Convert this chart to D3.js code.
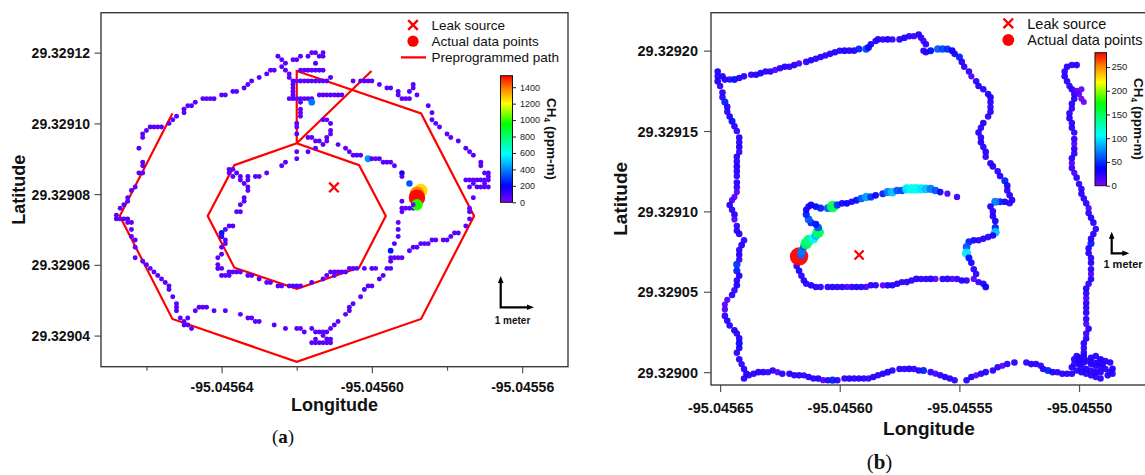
<!DOCTYPE html>
<html><head><meta charset="utf-8">
<script src="https://cdn.jsdelivr.net/npm/d3@7"></script>
<style>
body{margin:0;background:#fff;}
svg{display:block;font-family:"Liberation Sans",Arial,sans-serif;}
</style></head><body>
<svg id="chart" width="1145" height="475"></svg>
<script>
// ---------- panel (a): octagon survey ----------
const pathLonA = [-95.0456531,-95.0456671,-95.0456531,-95.0456200,-95.0455869,-95.0455728,-95.0455869,-95.0456200,-95.0456200,-95.0456366,-95.0456437,-95.0456366,-95.0456200,-95.0456034,-95.0455963,-95.0456034,-95.0456200,-95.0456001];
const pathLatA = [29.3291028,29.3290738,29.3290447,29.3290326,29.3290447,29.3290738,29.3291028,29.3291148,29.3290944,29.3290882,29.3290738,29.3290592,29.3290532,29.3290592,29.3290738,29.3290882,29.3290944,29.3291148];
const leakA = [-95.0456101, 29.3290819];
// [longitude, latitude, CH4 ppm-m]
const trackA = [
[-95.045625,29.329119,62],[-95.045619,29.329119,58],[-95.045617,29.329119,55],[-95.045616,29.329120,60],[-95.045615,29.329120,52],[-95.045613,29.329120,57],[-95.045613,29.329119,49],[-95.045614,29.329119,61],
[-95.045624,29.329118,54],[-95.045623,29.329117,63],[-95.045621,29.329118,50],[-95.045620,29.329118,58],[-95.045615,29.329117,66],
[-95.045627,29.329115,55],[-95.045626,29.329115,59],[-95.045624,29.329116,52],[-95.045623,29.329115,64],[-95.045622,29.329114,57],[-95.045622,29.329113,60],
[-95.045619,29.329115,51],[-95.045618,29.329115,56],[-95.045617,29.329115,62],[-95.045616,29.329115,58],[-95.045615,29.329115,53],[-95.045614,29.329115,65],[-95.045613,29.329115,60],
[-95.045621,29.329112,55],[-95.045620,29.329112,57],[-95.045619,29.329112,62],[-95.045618,29.329112,54],[-95.045617,29.329112,59],[-95.045616,29.329112,66],[-95.045615,29.329112,58],[-95.045614,29.329112,52],[-95.045613,29.329112,61],[-95.045612,29.329112,56],[-95.045611,29.329113,63],
[-95.045621,29.329111,60],[-95.045621,29.329110,55],[-95.045621,29.329109,58],[-95.045621,29.329108,62],[-95.045621,29.329107,54],[-95.045622,29.329107,57],
[-95.045620,29.329107,60],[-95.045619,29.329107,65],[-95.045618,29.329107,59],[-95.045617,29.329107,56],[-95.045616,29.329107,61],
[-95.045614,29.329108,57],[-95.045613,29.329108,63],[-95.045612,29.329108,55],[-95.045611,29.329108,60],[-95.045610,29.329108,58],[-95.045609,29.329108,66],[-95.045608,29.329108,54],
[-95.045616,29.329106,380],
[-95.045619,29.329106,58],[-95.045619,29.329104,52],[-95.045619,29.329103,60],[-95.045619,29.329102,57],[-95.045620,29.329100,63],[-95.045620,29.329099,55],[-95.045620,29.329097,59],
[-95.045613,29.329101,61],[-95.045612,29.329101,56],[-95.045611,29.329100,64],[-95.045611,29.329098,58],[-95.045611,29.329097,52],[-95.045612,29.329096,60],[-95.045612,29.329095,57],[-95.045613,29.329094,62],[-95.045614,29.329095,55],[-95.045615,29.329095,59],[-95.045616,29.329096,63],[-95.045617,29.329096,54],[-95.045615,29.329093,61],
[-95.045620,29.329092,57],[-95.045617,29.329092,60],[-95.045620,29.329090,55],
[-95.045605,29.329112,52],[-95.045603,29.329112,58],[-95.045602,29.329112,55],[-95.045601,29.329112,61],[-95.045600,29.329112,57],[-95.045598,29.329111,54],[-95.045596,29.329110,60],[-95.045595,29.329110,56],[-95.045593,29.329109,63],[-95.045593,29.329108,58],[-95.045592,29.329107,52],[-95.045591,29.329107,59],[-95.045590,29.329107,55],[-95.045590,29.329109,62],[-95.045589,29.329110,57],[-95.045589,29.329111,60],[-95.045588,29.329108,54],
[-95.045585,29.329105,58],[-95.045584,29.329103,55],[-95.045584,29.329101,61],[-95.045583,29.329100,57],[-95.045582,29.329099,53],[-95.045580,29.329097,60],[-95.045579,29.329096,56],[-95.045577,29.329095,62],[-95.045575,29.329093,58],[-95.045574,29.329092,54],[-95.045573,29.329091,60],[-95.045571,29.329089,57],[-95.045571,29.329088,63],[-95.045570,29.329086,55],[-95.045569,29.329086,59],[-95.045569,29.329085,61],
[-95.045575,29.329084,56],[-95.045574,29.329084,60],[-95.045573,29.329084,54],[-95.045572,29.329084,58],[-95.045571,29.329084,63],[-95.045570,29.329084,57],[-95.045569,29.329084,52],[-95.045570,29.329083,60],[-95.045573,29.329083,55],
[-95.045574,29.329082,59],[-95.045572,29.329082,62],[-95.045571,29.329082,56],[-95.045570,29.329082,58],[-95.045569,29.329082,53],
[-95.045573,29.329079,60],[-95.045574,29.329076,57],[-95.045574,29.329075,62],[-95.045574,29.329073,55],[-95.045575,29.329071,59],
[-95.045577,29.329069,56],[-95.045578,29.329069,61],[-95.045579,29.329068,54],[-95.045580,29.329067,58],[-95.045581,29.329067,63],[-95.045583,29.329067,57],[-95.045584,29.329067,60],[-95.045585,29.329066,55],[-95.045586,29.329066,59],[-95.045587,29.329066,62],[-95.045588,29.329065,56],[-95.045589,29.329065,58],[-95.045590,29.329064,61],
[-95.045609,29.329094,57],[-95.045607,29.329093,60],
[-95.045606,29.329092,55],[-95.045605,29.329091,58],[-95.045604,29.329091,62],[-95.045603,29.329091,57],[-95.045601,29.329090,420],[-95.045600,29.329090,60],[-95.045599,29.329090,55],[-95.045598,29.329090,63],[-95.045597,29.329089,58],[-95.045596,29.329089,61],[-95.045595,29.329089,54],[-95.045594,29.329088,60],[-95.045592,29.329086,180],[-95.045592,29.329085,62],
[-95.045592,29.329078,57],[-95.045592,29.329076,60],[-95.045592,29.329075,55],[-95.045591,29.329076,62],[-95.045590,29.329076,58],[-95.045589,29.329076,64],
[-95.045593,29.329072,56],[-95.045593,29.329070,60],[-95.045593,29.329068,57],[-95.045594,29.329066,63],[-95.045595,29.329064,230],[-95.045594,29.329062,58],[-95.045593,29.329062,55],[-95.045592,29.329062,61],[-95.045595,29.329062,59],[-95.045595,29.329061,64],[-95.045595,29.329059,56],[-95.045596,29.329059,60],[-95.045597,29.329057,57],[-95.045598,29.329056,62],[-95.045600,29.329054,55],[-95.045601,29.329054,59],[-95.045602,29.329053,63],[-95.045603,29.329051,57],[-95.045605,29.329049,60],[-95.045606,29.329048,54],[-95.045606,29.329047,61],[-95.045607,29.329046,58],
[-95.045599,29.329059,57],[-95.045600,29.329059,61],[-95.045602,29.329059,55],[-95.045604,29.329059,59],[-95.045605,29.329059,62],[-95.045606,29.329059,56],[-95.045607,29.329058,60],[-95.045608,29.329058,58],[-95.045609,29.329058,63],[-95.045610,29.329058,55],[-95.045611,29.329058,59],
[-95.045609,29.329044,57],[-95.045610,29.329043,61],[-95.045611,29.329042,55],[-95.045611,29.329039,60],
[-95.045628,29.329114,58],[-95.045630,29.329113,55],[-95.045632,29.329112,61],[-95.045633,29.329111,57],[-95.045634,29.329110,63],[-95.045636,29.329109,56],[-95.045637,29.329109,60],[-95.045639,29.329108,54],[-95.045640,29.329108,59],[-95.045642,29.329107,62],[-95.045643,29.329107,57],[-95.045644,29.329107,55],[-95.045645,29.329107,60],[-95.045647,29.329106,58],[-95.045648,29.329105,63],[-95.045649,29.329105,56],[-95.045650,29.329104,61],[-95.045650,29.329103,57],[-95.045652,29.329102,54],[-95.045653,29.329101,60],[-95.045654,29.329100,58],[-95.045656,29.329099,62],[-95.045657,29.329099,55],[-95.045658,29.329099,59],[-95.045659,29.329099,63],[-95.045660,29.329098,57],[-95.045661,29.329097,60],[-95.045661,29.329096,56],[-95.045662,29.329093,61],[-95.045661,29.329089,58],[-95.045661,29.329088,54],[-95.045661,29.329086,60],[-95.045662,29.329086,63],[-95.045663,29.329082,57],[-95.045664,29.329081,61],[-95.045665,29.329079,55],[-95.045665,29.329078,59],[-95.045666,29.329077,62],[-95.045667,29.329076,57],[-95.045668,29.329074,60],[-95.045668,29.329073,64],[-95.045667,29.329073,56],[-95.045666,29.329073,59],[-95.045665,29.329073,62],[-95.045665,29.329072,55],[-95.045664,29.329072,60],[-95.045664,29.329070,57],[-95.045664,29.329068,63],[-95.045663,29.329067,58],[-95.045663,29.329065,55],[-95.045663,29.329062,61],[-95.045661,29.329061,57],[-95.045660,29.329060,60],[-95.045659,29.329059,54],[-95.045658,29.329058,62],[-95.045657,29.329057,58],[-95.045656,29.329056,56],[-95.045655,29.329055,61],[-95.045654,29.329054,59],[-95.045654,29.329053,63],[-95.045653,29.329051,57],[-95.045652,29.329049,60],[-95.045652,29.329048,55],[-95.045652,29.329047,62],[-95.045651,29.329045,58],[-95.045649,29.329045,61],[-95.045650,29.329044,56],[-95.045650,29.329043,59],[-95.045649,29.329043,63],[-95.045648,29.329042,57],
[-95.045647,29.329047,60],[-95.045646,29.329048,55],[-95.045645,29.329048,58],[-95.045644,29.329048,62],[-95.045642,29.329047,57],[-95.045639,29.329047,61],[-95.045635,29.329046,56],[-95.045633,29.329045,60],[-95.045632,29.329045,58],[-95.045631,29.329044,63],[-95.045630,29.329044,55],[-95.045626,29.329043,59],[-95.045623,29.329042,62],[-95.045620,29.329042,57],[-95.045619,29.329042,60],[-95.045618,29.329041,56],[-95.045616,29.329042,61],[-95.045615,29.329041,58],[-95.045614,29.329041,64],[-95.045613,29.329041,57],[-95.045612,29.329041,60],[-95.045613,29.329040,55],[-95.045612,29.329039,62],[-95.045615,29.329039,58],[-95.045616,29.329038,61],[-95.045615,29.329038,57],[-95.045614,29.329038,63],[-95.045613,29.329038,56],[-95.045612,29.329038,60],[-95.045611,29.329038,58],
[-95.045623,29.329089,57],[-95.045624,29.329088,61],[-95.045628,29.329086,55],[-95.045630,29.329085,60],[-95.045631,29.329085,58],[-95.045633,29.329085,63],[-95.045633,29.329084,56],[-95.045633,29.329082,60],[-95.045633,29.329081,57],[-95.045634,29.329079,62],[-95.045634,29.329078,55],[-95.045635,29.329077,59],[-95.045635,29.329075,61],[-95.045636,29.329075,57],[-95.045637,29.329071,60],[-95.045638,29.329071,56],[-95.045639,29.329070,63],[-95.045640,29.329069,230],[-95.045640,29.329068,120],[-95.045639,29.329067,60],[-95.045639,29.329066,57],[-95.045640,29.329065,62],[-95.045640,29.329063,55],[-95.045641,29.329062,60],[-95.045641,29.329060,58],[-95.045641,29.329059,63],[-95.045640,29.329059,57],[-95.045640,29.329057,61],[-95.045639,29.329057,55],[-95.045638,29.329057,59],[-95.045638,29.329058,62],[-95.045637,29.329058,57],[-95.045636,29.329058,60],[-95.045635,29.329058,56],[-95.045633,29.329057,61],[-95.045632,29.329057,58],[-95.045630,29.329056,63],[-95.045628,29.329055,57],[-95.045627,29.329055,60],[-95.045625,29.329054,55],[-95.045624,29.329054,59],[-95.045622,29.329054,62],[-95.045621,29.329054,57],[-95.045620,29.329054,60],[-95.045619,29.329054,56],[-95.045616,29.329055,61],[-95.045613,29.329056,58],[-95.045612,29.329057,63],[-95.045610,29.329057,57],
[-95.045638,29.329087,60],[-95.045637,29.329087,56],[-95.045636,29.329086,62],[-95.045635,29.329085,58],[-95.045635,29.329084,61],[-95.045637,29.329085,55],[-95.045638,29.329086,59],[-95.045634,29.329083,63],
[-95.045590,29.329083,330],
[-95.045587,29.329081,1250],[-95.045588,29.329080,1380],[-95.045588,29.329079,1530],[-95.045588,29.329077,990],[-95.045589,29.329077,40]
];
const xTicksA = [-95.04566,-95.04564,-95.04562,-95.04560,-95.04558,-95.04556];
const xLabelsA = [-95.04564,-95.04560,-95.04556];
const yTicksA = [29.32904,29.32906,29.32908,29.32910,29.32912];
const cbTicksA = [0,200,400,600,800,1000,1200,1400];
const legendA = ["Leak source","Actual data points","Preprogrammed path"];

// ---------- panel (b): square survey ----------
const leakB = [-95.0455919, 29.3290729];
const trackB = [
[-95.045651,29.329187,28],[-95.045651,29.329184,25],[-95.045651,29.329181,30],[-95.045650,29.329178,22],[-95.045649,29.329174,27],[-95.045649,29.329171,24],[-95.045648,29.329168,45],[-95.045647,29.329165,26],[-95.045647,29.329162,23],[-95.045646,29.329159,28],[-95.045645,29.329156,40],[-95.045644,29.329153,25],[-95.045643,29.329150,22],[-95.045642,29.329146,27],[-95.045642,29.329143,24],[-95.045642,29.329140,29],[-95.045642,29.329137,21],[-95.045643,29.329134,26],[-95.045643,29.329131,24],[-95.045643,29.329128,30],[-95.045643,29.329125,25],[-95.045643,29.329122,22],[-95.045643,29.329118,27],[-95.045643,29.329115,23],[-95.045643,29.329112,12],[-95.045644,29.329109,10],[-95.045645,29.329107,14],[-95.045646,29.329104,26],[-95.045645,29.329101,24],[-95.045644,29.329098,28],[-95.045644,29.329095,12],[-95.045643,29.329091,22],[-95.045643,29.329088,25],[-95.045642,29.329086,27],[-95.045640,29.329082,24],[-95.045641,29.329079,29],[-95.045642,29.329076,23],[-95.045642,29.329073,26],[-95.045642,29.329070,21],[-95.045643,29.329067,50],[-95.045643,29.329063,45],[-95.045642,29.329060,27],[-95.045643,29.329057,24],[-95.045643,29.329054,28],[-95.045644,29.329051,22],[-95.045645,29.329048,25],[-95.045647,29.329045,12],[-95.045648,29.329042,10],[-95.045648,29.329039,14],[-95.045648,29.329035,24],[-95.045647,29.329032,27],[-95.045646,29.329029,25],[-95.045644,29.329026,30],[-95.045643,29.329024,23],[-95.045642,29.329021,26],[-95.045642,29.329018,40],[-95.045642,29.329015,28],[-95.045643,29.329012,24],[-95.045642,29.329008,27],[-95.045641,29.329005,22],[-95.045640,29.329002,25],[-95.045639,29.328999,29],[-95.045640,29.328996,26],
[-95.045649,29.329184,26],[-95.045648,29.329182,28],[-95.045646,29.329182,24],[-95.045644,29.329182,40],[-95.045642,29.329183,27],[-95.045640,29.329184,25],[-95.045637,29.329185,22],[-95.045635,29.329185,28],[-95.045633,29.329186,30],[-95.045631,29.329187,24],[-95.045629,29.329187,26],[-95.045627,29.329188,12],[-95.045625,29.329189,25],[-95.045623,29.329190,28],[-95.045621,29.329190,23],[-95.045619,29.329191,27],[-95.045617,29.329192,14],[-95.045614,29.329193,25],[-95.045612,29.329194,29],[-95.045610,29.329195,24],[-95.045608,29.329196,27],[-95.045606,29.329197,22],[-95.045604,29.329198,26],[-95.045602,29.329199,28],[-95.045600,29.329200,24],[-95.045598,29.329200,30],[-95.045596,29.329200,25],[-95.045594,29.329200,27],[-95.045592,29.329201,45],[-95.045589,29.329201,55],[-95.045588,29.329202,40],[-95.045587,29.329204,28],[-95.045585,29.329206,25],[-95.045584,29.329207,27],[-95.045582,29.329207,24],[-95.045580,29.329207,29],[-95.045578,29.329207,22],[-95.045575,29.329207,26],[-95.045573,29.329208,30],[-95.045571,29.329209,25],[-95.045569,29.329209,20],[-95.045567,29.329210,28],[-95.045566,29.329208,24],[-95.045565,29.329206,18],[-95.045564,29.329204,26],[-95.045565,29.329200,24],[-95.045564,29.329199,27],[-95.045562,29.329200,40],[-95.045559,29.329201,60],[-95.045557,29.329201,55],[-95.045555,29.329201,48],[-95.045553,29.329200,35],[-95.045552,29.329198,28],[-95.045550,29.329196,45],[-95.045549,29.329193,26],[-95.045548,29.329190,22],[-95.045546,29.329187,24],[-95.045545,29.329184,12],[-95.045543,29.329181,25],[-95.045542,29.329178,28],[-95.045540,29.329176,24],[-95.045538,29.329173,27],[-95.045537,29.329171,30],[-95.045537,29.329168,25],[-95.045537,29.329165,22],[-95.045537,29.329162,26],[-95.045538,29.329159,24],[-95.045540,29.329155,28],[-95.045541,29.329152,23],[-95.045542,29.329149,26],[-95.045541,29.329146,24],[-95.045541,29.329143,29],[-95.045540,29.329140,25],[-95.045539,29.329137,27],[-95.045539,29.329134,22],[-95.045537,29.329130,26],[-95.045536,29.329128,28],[-95.045534,29.329125,24],[-95.045533,29.329122,27],[-95.045531,29.329119,45],[-95.045530,29.329116,30],[-95.045530,29.329113,25],[-95.045529,29.329110,28],[-95.045528,29.329107,26],[-95.045529,29.329105,24],[-95.045531,29.329106,30],[-95.045533,29.329106,45],[-95.045535,29.329106,70],[-95.045537,29.329103,28],[-95.045536,29.329100,25],[-95.045536,29.329097,27],[-95.045535,29.329094,30],[-95.045535,29.329090,45],[-95.045535,29.329087,90],[-95.045536,29.329085,28],[-95.045538,29.329084,25],[-95.045540,29.329083,27],[-95.045542,29.329082,24],[-95.045544,29.329082,28],[-95.045546,29.329081,45],[-95.045547,29.329078,60],[-95.045547,29.329074,100],[-95.045546,29.329071,40],[-95.045545,29.329068,28],[-95.045544,29.329064,26],[-95.045543,29.329061,24],[-95.045544,29.329058,12],[-95.045542,29.329056,22],[-95.045540,29.329055,26],[-95.045539,29.329053,35],
[-95.045547,29.329057,24],[-95.045549,29.329057,28],[-95.045551,29.329058,22],[-95.045553,29.329058,12],[-95.045555,29.329058,26],[-95.045557,29.329058,24],[-95.045560,29.329058,10],[-95.045562,29.329058,27],[-95.045564,29.329058,25],[-95.045566,29.329058,22],[-95.045568,29.329058,28],[-95.045570,29.329057,24],[-95.045572,29.329056,26],[-95.045574,29.329056,23],[-95.045576,29.329055,27],[-95.045578,29.329054,25],[-95.045580,29.329054,29],[-95.045582,29.329054,12],[-95.045585,29.329054,24],[-95.045587,29.329054,26],[-95.045589,29.329053,14],[-95.045591,29.329053,25],[-95.045593,29.329053,28],[-95.045595,29.329053,24],[-95.045597,29.329053,12],[-95.045599,29.329053,26],[-95.045601,29.329053,23],[-95.045603,29.329053,27],[-95.045605,29.329053,25],[-95.045608,29.329053,22],[-95.045610,29.329053,26],[-95.045612,29.329054,28],[-95.045614,29.329055,24],[-95.045615,29.329057,27],[-95.045616,29.329060,25],[-95.045617,29.329063,29],[-95.045618,29.329066,26],
[-95.045617,29.329072,280],[-95.045616,29.329073,65],
[-95.045616,29.329075,70],[-95.045615,29.329078,60],[-95.045614,29.329080,150],[-95.045613,29.329082,140],[-95.045611,29.329083,110],[-95.045610,29.329085,90],[-95.045609,29.329087,150],[-95.045609,29.329090,60],[-95.045610,29.329092,40],[-95.045612,29.329093,45],[-95.045613,29.329095,60],[-95.045614,29.329098,45],[-95.045614,29.329101,30],[-95.045613,29.329103,28],[-95.045612,29.329104,32],[-95.045610,29.329103,35],[-95.045608,29.329102,45],[-95.045605,29.329102,60],[-95.045603,29.329103,150],[-95.045601,29.329104,50],[-95.045599,29.329105,30],[-95.045597,29.329105,35],[-95.045595,29.329106,28],[-95.045593,29.329107,40],[-95.045591,29.329108,60],[-95.045589,29.329109,80],[-95.045587,29.329109,50],[-95.045585,29.329110,35],[-95.045582,29.329111,45],[-95.045580,29.329112,70],[-95.045578,29.329112,90],[-95.045576,29.329113,60],[-95.045574,29.329113,55],[-95.045572,29.329114,100],[-95.045570,29.329114,110],[-95.045568,29.329114,110],[-95.045566,29.329114,100],[-95.045564,29.329114,90],[-95.045562,29.329114,70],[-95.045560,29.329113,60],[-95.045558,29.329112,30],[-95.045555,29.329111,15],[-95.045551,29.329109,20],
[-95.045638,29.328998,24],[-95.045636,29.328999,26],[-95.045634,29.329000,28],[-95.045632,29.329000,25],[-95.045630,29.329000,22],[-95.045628,29.329001,27],[-95.045626,29.329000,12],[-95.045624,29.328999,25],[-95.045621,29.328999,28],[-95.045619,29.328998,24],[-95.045617,29.328998,26],[-95.045615,29.328998,22],[-95.045613,29.328997,27],[-95.045611,29.328996,24],[-95.045609,29.328996,28],[-95.045607,29.328995,14],[-95.045605,29.328995,25],[-95.045603,29.328995,45],[-95.045601,29.328995,26],[-95.045598,29.328996,24],[-95.045596,29.328996,28],[-95.045594,29.328996,23],[-95.045592,29.328996,27],[-95.045590,29.328996,25],[-95.045588,29.328996,22],[-95.045586,29.328997,28],[-95.045584,29.328998,24],[-95.045582,29.328999,26],[-95.045580,29.329000,30],[-95.045578,29.329001,25],[-95.045575,29.329002,27],[-95.045573,29.329002,23],[-95.045571,29.329002,28],[-95.045569,29.329002,24],[-95.045567,29.329001,26],[-95.045565,29.329001,45],[-95.045562,29.329000,25],[-95.045560,29.328999,14],[-95.045558,29.328998,24],[-95.045556,29.328997,27],[-95.045554,29.328996,25],[-95.045552,29.328995,22],[-95.045547,29.328995,26],[-95.045545,29.328997,28],[-95.045543,29.328998,12],[-95.045541,29.328999,25],[-95.045539,29.329000,27],[-95.045536,29.329001,24],[-95.045534,29.329003,26],[-95.045532,29.329004,10],[-95.045530,29.329005,25],[-95.045527,29.329006,28],[-95.045522,29.329006,24],[-95.045520,29.329005,27],[-95.045518,29.329005,25],[-95.045516,29.329004,22],[-95.045515,29.329002,26],[-95.045513,29.329001,45],[-95.045511,29.329000,28],[-95.045509,29.329000,24],[-95.045507,29.328999,26],[-95.045505,29.328999,23],
[-95.045502,29.329008,26],[-95.045501,29.329010,24],[-95.045500,29.329009,28],[-95.045498,29.329010,22],[-95.045495,29.329009,27],[-95.045493,29.329010,25],[-95.045491,29.329008,29],[-95.045489,29.329007,24],[-95.045487,29.329006,26],[-95.045486,29.329002,28],[-95.045486,29.328999,23],[-95.045488,29.328998,27],[-95.045491,29.328996,25],[-95.045493,29.328997,22],[-95.045495,29.328998,26],[-95.045497,29.328999,24],[-95.045499,29.329000,28],[-95.045501,29.329001,25],[-95.045503,29.329003,27],[-95.045502,29.329005,23],[-95.045500,29.329005,26],[-95.045498,29.329006,29],[-95.045495,29.329005,24],[-95.045493,29.329004,27],[-95.045491,29.329003,22],[-95.045489,29.329002,26],[-95.045491,29.329000,25],[-95.045493,29.329000,28],[-95.045495,29.329001,23],[-95.045497,29.329002,27],[-95.045499,29.329003,24],[-95.045487,29.329000,26],[-95.045490,29.329005,25],[-95.045492,29.329006,28],[-95.045494,29.329006,22],[-95.045496,29.329007,26],[-95.045498,29.329008,24],[-95.045500,29.329007,27],[-95.045503,29.328999,25],
[-95.045498,29.329012,25],[-95.045498,29.329015,22],[-95.045498,29.329018,26],[-95.045497,29.329021,24],[-95.045497,29.329024,20],[-95.045496,29.329027,25],[-95.045497,29.329030,12],[-95.045497,29.329033,24],[-95.045497,29.329037,26],[-95.045497,29.329040,22],[-95.045497,29.329043,25],[-95.045497,29.329046,14],[-95.045497,29.329049,24],[-95.045497,29.329052,26],[-95.045496,29.329055,23],[-95.045495,29.329058,25],[-95.045495,29.329061,12],[-95.045495,29.329064,24],[-95.045495,29.329068,26],[-95.045495,29.329071,22],[-95.045496,29.329074,25],[-95.045496,29.329077,23],[-95.045495,29.329080,45],[-95.045495,29.329083,26],[-95.045494,29.329086,24],[-95.045493,29.329089,22],[-95.045494,29.329093,25],[-95.045495,29.329096,27],[-95.045496,29.329099,24],[-95.045496,29.329102,12],[-95.045497,29.329105,25],[-95.045498,29.329108,23],[-95.045499,29.329111,26],[-95.045499,29.329114,24],[-95.045500,29.329117,22],[-95.045501,29.329121,25],[-95.045502,29.329124,14],[-95.045503,29.329127,24],[-95.045503,29.329130,12],[-95.045503,29.329133,25],[-95.045502,29.329136,23],[-95.045502,29.329139,26],[-95.045502,29.329142,12],[-95.045502,29.329145,24],[-95.045502,29.329149,22],[-95.045503,29.329152,25],[-95.045503,29.329155,23],[-95.045504,29.329158,26],[-95.045504,29.329161,24],[-95.045503,29.329164,22],[-95.045503,29.329167,25],[-95.045502,29.329170,27],[-95.045502,29.329173,24],[-95.045503,29.329176,26],[-95.045504,29.329178,23],[-95.045505,29.329181,25],[-95.045506,29.329184,28],[-95.045506,29.329187,24],[-95.045505,29.329190,26],[-95.045503,29.329191,23],[-95.045501,29.329191,27],
[-95.045501,29.329175,10],[-95.045500,29.329173,10],[-95.045499,29.329176,8],[-95.045499,29.329170,5],[-95.045498,29.329168,5]
];
const xTicksB = [-95.04565,-95.04560,-95.04555,-95.04550];
const yTicksB = [29.32900,29.32905,29.32910,29.32915,29.32920];
const cbTicksB = [0,50,100,150,200,250];
const legendB = ["Leak source","Actual data points"];

// ---------- shared drawing ----------
const svg = d3.select("#chart");
const defs = svg.append("defs");
const rainbow = d3.scaleLinear()
  .domain([0, 0.13, 0.38, 0.62, 0.78, 0.9, 1])
  .range(["#8000ff","#0000ff","#00ffff","#00ff00","#ffff00","#ff8000","#ff0000"])
  .clamp(true);
const INK = "#111";

function cross(sel, cx, cy, half, w) {
  sel.append("path")
    .attr("d", `M${cx-half},${cy-half}L${cx+half},${cy+half}M${cx-half},${cy+half}L${cx+half},${cy-half}`)
    .attr("stroke", "#ff0000").attr("stroke-width", w).attr("fill", "none");
}
const near = (a, list) => list.some(v => Math.abs(v - a) < 1e-9);

function drawPanel(p) {
  const g = svg.append("g");
  const x = d3.scaleLinear().domain(p.xDomain).range([p.left, p.right]);
  const y = d3.scaleLinear().domain(p.yDomain).range([p.bottom, p.top]);
  const color = v => rainbow(v / p.ch4Max);
  const radius = d3.scalePow().exponent(1.3).domain([0, p.ch4Max]).range([p.rMin, p.rMax]);

  defs.append("clipPath").attr("id", "clip-" + p.id).append("rect")
    .attr("x", p.left).attr("y", p.top).attr("width", p.right - p.left).attr("height", p.bottom - p.top);
  const plot = g.append("g").attr("clip-path", `url(#clip-${p.id})`);

  if (p.pathLon) {
    plot.append("path").datum(d3.zip(p.pathLon, p.pathLat))
      .attr("d", d3.line().x(d => x(d[0])).y(d => y(d[1])))
      .attr("fill", "none").attr("stroke", "#ff0000").attr("stroke-width", 2.2);
  }
  plot.selectAll("circle.pt").data(p.track).join("circle")
    .attr("class", "pt")
    .attr("cx", d => x(d[0])).attr("cy", d => y(d[1]))
    .attr("r", d => radius(d[2])).attr("fill", d => color(d[2]))
    .attr("fill-opacity", p.alpha);
  cross(plot, x(p.leak[0]), y(p.leak[1]), p.crossHalf, 2.2);

  // axes
  const gx = g.append("g").attr("transform", `translate(0,${p.bottom})`)
    .call(d3.axisBottom(x).tickValues(p.xTicks).tickSize(p.tickLen)
      .tickFormat(d => near(d, p.xLabels) ? d.toFixed(5) : ""));
  gx.select(".domain").remove();
  gx.selectAll(".tick line").attr("stroke", "#555").attr("stroke-width", 1.2)
    .attr("y2", d => near(d, p.xLabels) ? p.tickLen : p.minorLen);
  gx.selectAll(".tick text").attr("y", p.xLabelY).attr("dy", null)
    .attr("fill", INK).style("font", `bold ${p.tickFont}px "Liberation Sans",Arial,sans-serif`);

  const gy = g.append("g").attr("transform", `translate(${p.left},0)`)
    .call(d3.axisLeft(y).tickValues(p.yTicks).tickSize(p.tickLen).tickFormat(d => d.toFixed(5)));
  gy.select(".domain").remove();
  gy.selectAll(".tick line").attr("stroke", "#555").attr("stroke-width", 1.2);
  gy.selectAll(".tick text").attr("x", p.yLabelX).attr("dy", "0.36em")
    .attr("fill", INK).style("font", `bold ${p.tickFont}px "Liberation Sans",Arial,sans-serif`);

  g.append("rect").attr("x", p.left).attr("y", p.top)
    .attr("width", p.right - p.left).attr("height", p.bottom - p.top)
    .attr("fill", "none").attr("stroke", "#3c3c3c").attr("stroke-width", 1.4);

  // titles
  g.append("text").attr("x", (p.left + Math.min(p.right, 1147)) / 2).attr("y", p.xTitleY)
    .attr("text-anchor", "middle").attr("fill", INK)
    .style("font", `bold ${p.titleFont}px "Liberation Sans",Arial,sans-serif`).text("Longitude");
  g.append("text").attr("transform", `translate(${p.yTitleX},${(p.top + p.bottom) / 2}) rotate(-90)`)
    .attr("dy", "0.36em").attr("text-anchor", "middle").attr("fill", INK)
    .style("font", `bold ${p.titleFont}px "Liberation Sans",Arial,sans-serif`).text("Latitude");

  // legend
  const lg = g.append("g").style("font", `${p.legFont}px "Liberation Sans",Arial,sans-serif`);
  p.legend.forEach((label, i) => {
    const ly = p.legY + i * p.legStep;
    if (i === 0) cross(lg, p.legMarkX, ly, 4.8, 2.4);
    if (i === 1) lg.append("circle").attr("cx", p.legMarkX).attr("cy", ly).attr("r", p.legR).attr("fill", "#ff0000");
    if (i === 2) lg.append("line").attr("x1", p.legMarkX - 12).attr("x2", p.legMarkX + 13)
      .attr("y1", ly).attr("y2", ly).attr("stroke", "#ff0000").attr("stroke-width", 2.3);
    lg.append("text").attr("x", p.legTextX).attr("y", ly).attr("dy", "0.36em").attr("fill", INK).text(label);
  });

  // colour bar
  const cb = p.cb;
  const gid = "grad-" + p.id;
  const grad = defs.append("linearGradient").attr("id", gid)
    .attr("x1", 0).attr("y1", 1).attr("x2", 0).attr("y2", 0);
  d3.range(0, 1.0001, 0.02).forEach(t => grad.append("stop").attr("offset", t).attr("stop-color", rainbow(t)));
  const cy = d3.scaleLinear().domain([0, p.ch4Max]).range([cb.y + cb.h, cb.y]);
  g.append("rect").attr("x", cb.x).attr("y", cb.y).attr("width", cb.w).attr("height", cb.h)
    .attr("fill", `url(#${gid})`).attr("stroke", "#111").attr("stroke-width", 1);
  const ca = g.append("g").attr("transform", `translate(${cb.x + cb.w},0)`)
    .call(d3.axisRight(cy).tickValues(p.cbTicks).tickSize(3.5).tickPadding(cb.pad).tickFormat(d => String(d)));
  ca.select(".domain").remove();
  ca.selectAll(".tick line").attr("stroke", "#222");
  ca.selectAll(".tick text").attr("fill", "#222").style("font", `${cb.font}px "Liberation Sans",Arial,sans-serif`);
  const ct = g.append("text").attr("transform", `translate(${cb.titleX},${cb.titleY}) rotate(90)`)
    .attr("dy", "0.36em").attr("text-anchor", "middle").attr("fill", INK)
    .style("font", `bold ${cb.titleFont}px "Liberation Sans",Arial,sans-serif`);
  ct.append("tspan").text("CH");
  ct.append("tspan").attr("font-size", cb.titleFont * 0.62).attr("dy", "0.35em").text("4");
  ct.append("tspan").attr("dy", `-${cb.titleFont * 0.62 * 0.35}`).text(" (ppm-m)");

  // 1 m scale indicator
  const s = p.scale;
  const sg = g.append("g");
  sg.append("path").attr("d", `M${s.x},${s.top + 4}V${s.y}H${s.right - 4}`)
    .attr("fill", "none").attr("stroke", "#000").attr("stroke-width", 2.2);
  sg.append("path").attr("d", `M${s.x},${s.top}l-2.8,7h5.6z`).attr("fill", "#000");
  sg.append("path").attr("d", `M${s.right},${s.y}l-7,-2.8v5.6z`).attr("fill", "#000");
  sg.append("text").attr("x", s.tx).attr("y", s.ty).attr("text-anchor", "middle").attr("dy", "0.36em")
    .attr("fill", INK).style("font", `bold ${s.font}px "Liberation Sans",Arial,sans-serif`).text("1 meter");

  // sub-figure label
  const sl = g.append("text").attr("x", p.subX).attr("y", p.subY).attr("text-anchor", "middle")
    .attr("fill", INK).style("font", `${p.subFont}px "Liberation Serif","Times New Roman",serif`);
  sl.append("tspan").text("(");
  sl.append("tspan").attr("font-weight", "bold").text(p.id);
  sl.append("tspan").text(")");
}

drawPanel({
  id: "a", left: 101, right: 568, top: 12.7, bottom: 366.7,
  xDomain: [-95.0456721, -95.0455478], yDomain: [29.3290312, 29.3291313],
  track: trackA, pathLon: pathLonA, pathLat: pathLatA, leak: leakA,
  ch4Max: 1540, rMin: 2.4, rMax: 8.3, alpha: 1, crossHalf: 4.8,
  xTicks: xTicksA, xLabels: xLabelsA, yTicks: yTicksA,
  tickLen: 6.5, minorLen: 4, tickFont: 14, xLabelY: 25.8, yLabelX: -11,
  titleFont: 18, xTitleY: 410.5, yTitleX: 19,
  legend: legendA, legFont: 13.5, legY: 25, legStep: 16.2, legMarkX: 413, legR: 5.6, legTextX: 431.5,
  cb: { x: 500.5, y: 75.7, w: 12, h: 126.6, font: 9, pad: 4, titleX: 551.7, titleY: 139, titleFont: 13.5 },
  cbTicks: cbTicksA,
  scale: { x: 500.7, y: 307.3, top: 276, right: 534, tx: 512.5, ty: 320, font: 10 },
  subX: 283, subY: 443, subFont: 19
});

drawPanel({
  id: "b", left: 711, right: 1147, top: 12.7, bottom: 385,
  xDomain: [-95.0456538, -95.0454716], yDomain: [29.328992, 29.3292236],
  track: trackB, leak: leakB,
  ch4Max: 280, rMin: 3.0, rMax: 9.2, alpha: 0.95, crossHalf: 4.5,
  xTicks: xTicksB, xLabels: xTicksB, yTicks: yTicksB,
  tickLen: 7, minorLen: 7, tickFont: 14.5, xLabelY: 27.5, yLabelX: -13,
  titleFont: 19, xTitleY: 435, yTitleX: 620,
  legend: legendB, legFont: 14.5, legY: 23.3, legStep: 16.7, legMarkX: 1008.3, legR: 5.9, legTextX: 1027.3,
  cb: { x: 1095, y: 52.7, w: 11.5, h: 133, font: 9.5, pad: 1.5, titleX: 1138.5, titleY: 119, titleFont: 13.5 },
  cbTicks: cbTicksB,
  scale: { x: 1111.7, y: 253.3, top: 231.7, right: 1129.3, tx: 1123, ty: 264, font: 11 },
  subX: 879.5, subY: 469, subFont: 21
});
</script>
</body></html>
